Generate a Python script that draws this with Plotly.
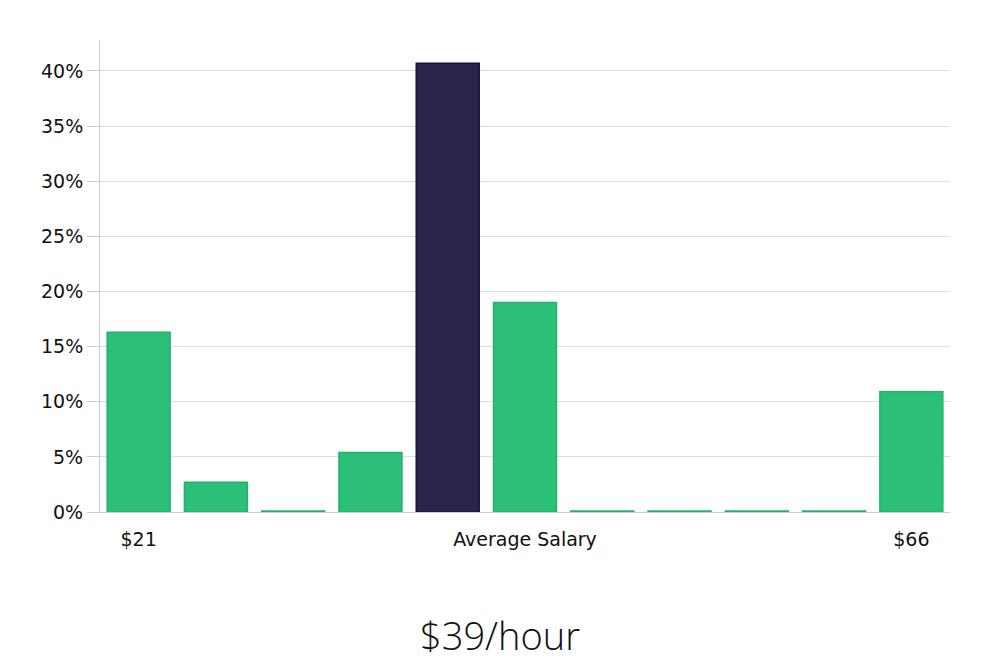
import plotly.graph_objects as go

categories = list(range(11))
values = [16.3, 2.7, 0.1, 5.4, 40.7, 19.0, 0.1, 0.1, 0.1, 0.1, 10.9]
highlight_index = 4
tick_positions = [0, 5, 10]
tick_labels = ["$21", "Average Salary", "$66"]
y_ticks = [0, 5, 10, 15, 20, 25, 30, 35, 40]
title_text = "$39/hour"

green = "#2bbf78"
green_line = "#1fb46b"
dark = "#29254a"
dark_line = "#19163d"

colors = [dark if i == highlight_index else green for i in categories]
line_colors = [dark_line if i == highlight_index else green_line for i in categories]

fig = go.Figure(go.Bar(
    x=categories, y=values,
    marker=dict(color=colors, line=dict(color=line_colors, width=1.5)),
    hoverinfo="skip",
))

# page body has an 8px margin, so plot area offsets compensate for it
ml, mt, mr, mb = 92, 32, 58, 156
plot_h = 660 - mt - mb
plot_w = 1000 - ml - mr

fig.update_layout(
    width=1000, height=660,
    margin=dict(l=ml, r=mr, t=mt, b=mb),
    plot_bgcolor="white", paper_bgcolor="white",
    bargap=0.185,
    showlegend=False,
    font=dict(family="DejaVu Sans", size=19, color="#111"),
    xaxis=dict(
        range=[-0.5, 10.5],
        tickmode="array", tickvals=tick_positions, ticktext=tick_labels,
        showgrid=False, zeroline=False,
        showline=True, linecolor="#cccccc", linewidth=1,
        ticks="", ticklabelstandoff=10,
    ),
    yaxis=dict(
        range=[0, 42.8],
        tickmode="array", tickvals=y_ticks,
        ticktext=[f"{v}%" for v in y_ticks],
        showgrid=True, gridcolor="#dddddd", gridwidth=1,
        zeroline=False,
        showline=True, linecolor="#cccccc", linewidth=1,
        ticks="outside", ticklen=12, tickcolor="#cccccc",
        ticklabelstandoff=0,
    ),
    annotations=[dict(
        text=title_text, x=(492 - ml) / plot_w, xref="paper", xanchor="center",
        y=-(635 - 512) / plot_h, yref="paper", yanchor="middle",
        showarrow=False,
        font=dict(family="Open Sans", size=38, color="#111", weight=300),
    )],
)

fig.write_html("out.html")
